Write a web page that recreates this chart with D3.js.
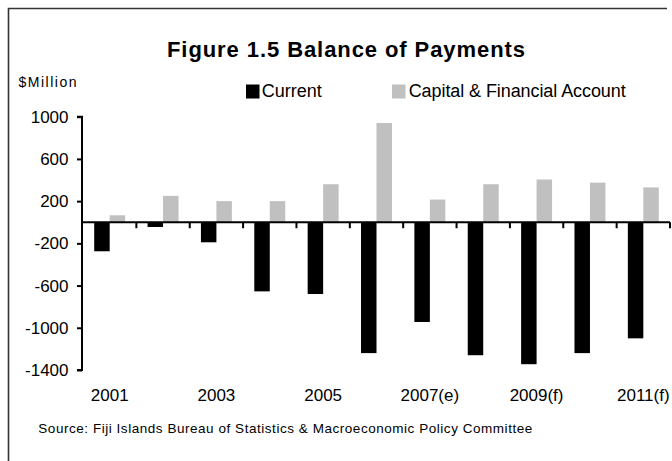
<!DOCTYPE html>
<html>
<head>
<meta charset="utf-8">
<script src="https://cdn.jsdelivr.net/npm/d3@7/dist/d3.min.js"></script>
<style>
  html, body { margin: 0; padding: 0; background: #fff; }
  svg { display: block; font-family: "Liberation Sans", Arial, sans-serif; }
</style>
</head>
<body>
<svg id="chart" width="672" height="461"></svg>
<script>
// Balance of Payments, $ million
const years = ["2001", "2002", "2003", "2004", "2005", "2006",
               "2007(e)", "2008(f)", "2009(f)", "2010(f)", "2011(f)"];
const current = [-275, -45, -190, -655, -680, -1240, -945, -1260, -1345, -1240, -1100];
const capitalFinancial = [66, 250, 200, 200, 360, 940, 215, 360, 405, 375, 330];
const yTicks = [1000, 600, 200, -200, -600, -1000, -1400];
const xTickLabels = ["2001", "2003", "2005", "2007(e)", "2009(f)", "2011(f)"];
const seriesNames = ["Current", "Capital & Financial Account"];
const seriesColors = ["#000000", "#c0c0c0"];

const svg = d3.select("#chart");

// outer frame
svg.append("path")
  .attr("d", "M8.5,461 L8.5,8.5 L667,8.5")
  .attr("fill", "none")
  .attr("stroke", "#333")
  .attr("stroke-width", 1.6);

// title
svg.append("text")
  .attr("x", 346).attr("y", 56.7)
  .attr("text-anchor", "middle")
  .attr("font-size", 22).attr("font-weight", "bold")
  .attr("textLength", 358).attr("lengthAdjust", "spacing")
  .text("Figure 1.5 Balance of Payments");

// unit label
svg.append("text")
  .attr("x", 18.5).attr("y", 87.3)
  .attr("font-size", 14)
  .attr("textLength", 58).attr("lengthAdjust", "spacing")
  .text("$Million");

// scales
const x = d3.scaleBand().domain(years).range([83, 670]).padding(0);
const y = d3.scaleLinear().domain([-1400, 1000]).range([370, 116.7]);
const barW = x.bandwidth() * 0.29;

// bars
const groups = svg.append("g").selectAll("g")
  .data(years)
  .join("g")
  .attr("transform", d => `translate(${x(d) + x.bandwidth() / 2},0)`);

groups.append("rect")
  .attr("x", -barW)
  .attr("width", barW)
  .attr("y", (d, i) => y(Math.max(0, current[i])))
  .attr("height", (d, i) => Math.abs(y(current[i]) - y(0)))
  .attr("fill", seriesColors[0]);

groups.append("rect")
  .attr("x", 0)
  .attr("width", barW)
  .attr("y", (d, i) => y(Math.max(0, capitalFinancial[i])))
  .attr("height", (d, i) => Math.abs(y(capitalFinancial[i]) - y(0)))
  .attr("fill", seriesColors[1]);

// y axis (plain hyphen for negatives)
const yAxis = svg.append("g")
  .attr("transform", "translate(82,0)")
  .call(d3.axisLeft(y).tickValues(yTicks).tickSize(5).tickPadding(8.5).tickFormat(d => String(d)));
yAxis.select(".domain").attr("stroke", "#000").attr("stroke-width", 2)
  .attr("d", `M-5,${y(1000)}H0V${y(-1400)}H-5`);
yAxis.selectAll(".tick line").attr("stroke", "#000").attr("stroke-width", 2);
yAxis.selectAll(".tick text")
  .attr("font-size", 17).attr("fill", "#000")
  .attr("font-family", "Liberation Sans, Arial, sans-serif");

// x axis along zero
const zeroY = y(0);
svg.append("line")
  .attr("x1", 82).attr("x2", 670)
  .attr("y1", zeroY).attr("y2", zeroY)
  .attr("stroke", "#000").attr("stroke-width", 2);
svg.append("g").selectAll("line")
  .data(years)
  .join("line")
  .attr("x1", d => x(d) + x.step())
  .attr("x2", d => x(d) + x.step())
  .attr("y1", zeroY).attr("y2", zeroY + 6)
  .attr("stroke", "#000").attr("stroke-width", 2);

// category labels under the plot
svg.append("g").selectAll("text")
  .data(years.filter(d => xTickLabels.includes(d)))
  .join("text")
  .attr("x", d => x(d) + x.bandwidth() / 2)
  .attr("y", 400.7)
  .attr("text-anchor", "middle")
  .attr("font-size", 17)
  .text(d => d);

// legend
const legend = [
  { name: seriesNames[0], color: seriesColors[0], sx: 246, tx: 261.7, len: 60 },
  { name: seriesNames[1], color: seriesColors[1], sx: 392, tx: 408.7, len: 217 }
];
const lg = svg.append("g").selectAll("g").data(legend).join("g");
lg.append("rect")
  .attr("x", d => d.sx).attr("y", 84.5)
  .attr("width", 13.5).attr("height", 14)
  .attr("fill", d => d.color);
lg.append("text")
  .attr("x", d => d.tx).attr("y", 96.7)
  .attr("font-size", 18)
  .attr("textLength", d => d.len).attr("lengthAdjust", "spacing")
  .text(d => d.name);

// source note
svg.append("text")
  .attr("x", 38.3).attr("y", 433.3)
  .attr("font-size", 13.5)
  .attr("textLength", 494).attr("lengthAdjust", "spacing")
  .text("Source: Fiji Islands Bureau of Statistics & Macroeconomic Policy Committee");
</script>
</body>
</html>
